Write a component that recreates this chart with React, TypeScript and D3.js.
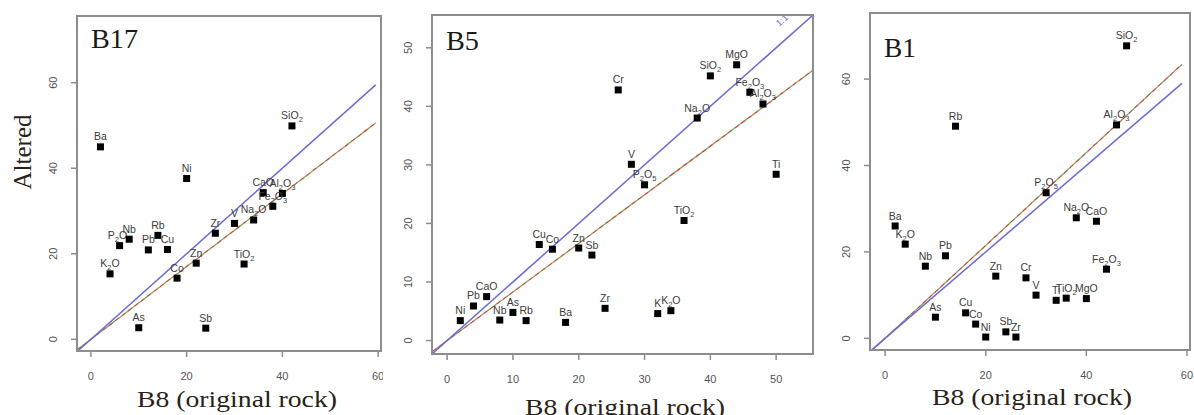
import * as d3 from 'd3';
import React from 'react';

// B8 (original rock) vs altered samples, element ranks
const B17_ELEMENTS = ["Ba", "K2O", "P2O5", "Nb", "Pb", "Rb", "Cu", "Ni", "Co", "Zn", "Zr", "V", "Na2O", "TiO2", "CaO", "Al2O3", "Fe2O3", "As", "Sb", "SiO2"];
const B17_ORIGINAL = [2, 4, 6, 8, 12, 14, 16, 20, 18, 22, 26, 30, 34, 32, 36, 40, 38, 10, 24, 42];
const B17_ALTERED = [45.0, 15.3, 21.9, 23.4, 20.9, 24.3, 21.0, 37.6, 14.3, 17.8, 24.8, 27.1, 27.9, 17.6, 34.3, 34.1, 31.1, 2.7, 2.6, 49.9];

const B5_ELEMENTS = ["Ni", "Pb", "CaO", "Nb", "As", "Rb", "Ba", "Zr", "K", "K2O", "Cu", "Co", "Zn", "Sb", "V", "P2O5", "TiO2", "Cr", "Na2O", "SiO2", "MgO", "Fe2O3", "Al2O3", "Ti"];
const B5_ORIGINAL = [2, 4, 6, 8, 10, 12, 18, 24, 32, 34, 14, 16, 20, 22, 28, 30, 36, 26, 38, 40, 44, 46, 48, 50];
const B5_ALTERED = [3.4, 5.9, 7.5, 3.5, 4.8, 3.4, 3.1, 5.5, 4.6, 5.1, 16.4, 15.6, 15.8, 14.6, 30.1, 26.6, 20.5, 42.8, 38.0, 45.2, 47.1, 42.4, 40.4, 28.4];

const B1_ELEMENTS = ["Ba", "K2O", "Nb", "Pb", "Rb", "As", "Cu", "Co", "Ni", "Sb", "Zr", "Zn", "Cr", "V", "Ti", "TiO2", "MgO", "Na2O", "CaO", "Fe2O3", "P2O5", "Al2O3", "SiO2"];
const B1_ORIGINAL = [2, 4, 8, 12, 14, 10, 16, 18, 20, 24, 26, 22, 28, 30, 34, 36, 40, 38, 42, 44, 32, 46, 48];
const B1_ALTERED = [26.0, 21.8, 16.7, 19.1, 49.1, 4.9, 5.9, 3.3, 0.3, 1.5, 0.3, 14.4, 14.0, 10.0, 8.8, 9.3, 9.2, 27.9, 27.1, 16.0, 33.7, 49.4, 67.7];

// slopes of the dashed fit lines
const FIT_SLOPES = [0.85, 0.83, 1.075];

const TICKS_B17 = [0, 20, 40, 60];
const TICKS_B5 = [0, 10, 20, 30, 40, 50];
const TICKS_B1 = [0, 20, 40, 60];

const panels = [
    {
        name: "B17", names: B17_ELEMENTS, xs: B17_ORIGINAL, ys: B17_ALTERED, slope: FIT_SLOPES[0], ticks: TICKS_B17,
        left: 77, right: 381, top: 16, bottom: 351,
        xDom: [-2.9, 60.6], yDom: [-2.74, 75.6], lineEnd: 59.5,
        regionLeft: 0, regionRight: 383, titleW: 47, titleY: 48, xLabelX: 237, xLabelY: 407,
    },
    {
        name: "B5", names: B5_ELEMENTS, xs: B5_ORIGINAL, ys: B5_ALTERED, slope: FIT_SLOPES[1], ticks: TICKS_B5,
        left: 432, right: 813, top: 15, bottom: 354,
        xDom: [-2.3, 55.6], yDom: [-2.3, 55.6], lineEnd: 55.6,
        regionLeft: 384, regionRight: 822, titleW: 33, titleY: 50, xLabelX: 625, xLabelY: 415,
    },
    {
        name: "B1", names: B1_ELEMENTS, xs: B1_ORIGINAL, ys: B1_ALTERED, slope: FIT_SLOPES[2], ticks: TICKS_B1,
        left: 870, right: 1190, top: 13, bottom: 350,
        xDom: [-3.0, 60.6], yDom: [-2.7, 75.3], lineEnd: 59.0,
        regionLeft: 822, regionRight: 1194, titleW: 32, titleY: 57, xLabelX: 1032, xLabelY: 405,
    },
];

const BOX = "#8d8d8d";
const BLUE = "#6b6bd4";
const RED = "#bf4f3a";
const GREEN = "#72ad5e";
const SANS = "'Liberation Sans', Arial, sans-serif";
const SERIF = "'Liberation Serif', 'Times New Roman', serif";

// chemical formula -> runs with subscripted digits
function Formula({ text }) {
    const runs = text.match(/\d+|\D+/g) || [];
    let sub = false;
    return (
        <>
            {runs.map((r, i) => {
                const isNum = /\d/.test(r);
                const dy = isNum && !sub ? 3 : !isNum && sub ? -3 : 0;
                sub = isNum;
                return (
                    <tspan key={i} dy={dy} fontSize={isNum ? 7.5 : 10.5}>{r}</tspan>
                );
            })}
        </>
    );
}

function Panel({ p, idx }) {
    const x = d3.scaleLinear().domain(p.xDom).range([p.left, p.right]);
    const y = d3.scaleLinear().domain(p.yDom).range([p.bottom, p.top]);
    const x0 = p.xDom[0];
    const clipId = `box${idx}`;
    const regId = `reg${idx}`;
    const lineGen = d3.line<number>().x(d => x(d)).y(d => y(d));
    const fitGen = d3.line<number>().x(d => x(d)).y(d => y(d * p.slope));
    const ends = [x0, p.lineEnd];

    return (
        <g clipPath={`url(#${regId})`}>
            <defs>
                <clipPath id={clipId}>
                    <rect x={p.left} y={p.top} width={p.right - p.left} height={p.bottom - p.top} />
                </clipPath>
                <clipPath id={regId}>
                    <rect x={p.regionLeft} y={0} width={p.regionRight - p.regionLeft} height={415} />
                </clipPath>
            </defs>

            {/* reference and fit lines */}
            <g clipPath={`url(#${clipId})`}>
                <path d={fitGen(ends)} fill="none" stroke={GREEN} strokeWidth={1.3} strokeDasharray="3 5" strokeDashoffset={3} />
                <path d={fitGen(ends)} fill="none" stroke={RED} strokeWidth={1.3} strokeDasharray="5 3" />
                <path d={lineGen(ends)} fill="none" stroke={BLUE} strokeWidth={1.5} />
                {idx === 1 && (
                    <text x={x(51.2)} y={y(54.3)} fill={BLUE} fontSize={9} fontFamily={SANS}
                        textAnchor="middle" transform={`rotate(-41.7 ${x(51.2)} ${y(54.3)})`}>1:1</text>
                )}
            </g>

            {/* points and their labels */}
            {p.xs.map((v, i) => (
                <g key={i}>
                    <rect x={x(v) - 3.5} y={y(p.ys[i]) - 3.5} width={7} height={7} fill="#000" />
                    <text x={x(v)} y={y(p.ys[i]) - 6.5} textAnchor="middle" fill="#3c3c3c"
                        fontFamily={SANS} fontSize={10.5}>
                        <Formula text={p.names[i]} />
                    </text>
                </g>
            ))}

            {/* box */}
            <rect x={p.left} y={p.top} width={p.right - p.left} height={p.bottom - p.top}
                fill="none" stroke={BOX} strokeWidth={2} />

            {/* x axis */}
            {p.ticks.map(t => (
                <g key={`x${t}`}>
                    <line x1={x(t)} x2={x(t)} y1={p.bottom} y2={p.bottom + 6} stroke={BOX} strokeWidth={1.5} />
                    <text x={x(t)} y={p.bottom + 29} textAnchor="middle" fill="#555" fontSize={11}
                        fontFamily={SANS}>{t}</text>
                </g>
            ))}
            {/* y axis */}
            {p.ticks.map(t => (
                <g key={`y${t}`}>
                    <line x1={p.left - 6} x2={p.left} y1={y(t)} y2={y(t)} stroke={BOX} strokeWidth={1.5} />
                    <text x={p.left - 20} y={y(t)} textAnchor="middle" fill="#555" fontSize={11}
                        fontFamily={SANS}
                        transform={`rotate(-90 ${p.left - 20} ${y(t)})`}>{t}</text>
                </g>
            ))}

            <text x={p.left + 14} y={p.titleY} fontSize={27} fill="#1a1a1a"
                fontFamily={SERIF}
                textLength={p.titleW} lengthAdjust="spacingAndGlyphs">{p.name}</text>

            <text x={p.xLabelX} y={p.xLabelY} textAnchor="middle" fontSize={23} fill="#2a2218"
                fontFamily={SERIF}
                textLength={200} lengthAdjust="spacingAndGlyphs">B8 (original rock)</text>
        </g>
    );
}

export default function App() {
    return (
        <svg width={1194} height={415} style={{ position: 'absolute', left: 0, top: 0, background: '#fff' }}>
            <rect width={1194} height={415} fill="#fff" />
            {panels.map((p, i) => <Panel key={p.name} p={p} idx={i} />)}
            <text x={0} y={0} fontSize={25} fill="#2a2218"
                fontFamily={SERIF} textAnchor="middle"
                transform="translate(31,152) rotate(-90)">Altered</text>
        </svg>
    );
}
